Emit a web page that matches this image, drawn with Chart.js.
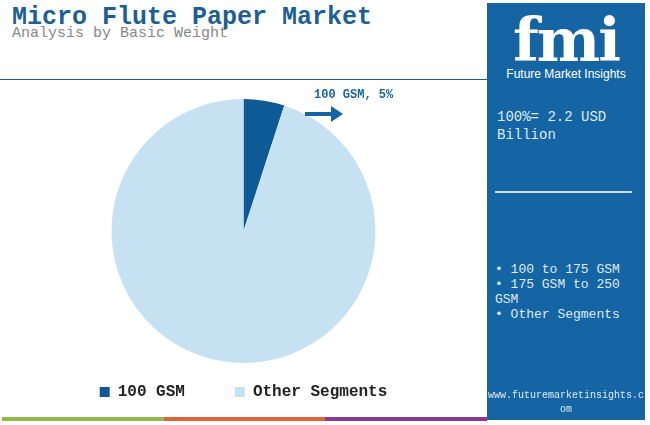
<!DOCTYPE html><html><head><meta charset="utf-8">
<script src="https://cdn.jsdelivr.net/npm/chart.js@4"></script>
<style>
body{margin:0;width:650px;height:425px;position:relative;background:#fff;font-family:"Liberation Mono","DejaVu Sans Mono",monospace;overflow:hidden}
#t1{position:absolute;left:12px;top:3px;font-size:25px;font-weight:bold;color:#1c5f94;font-family:"Liberation Mono",monospace}
#t2{position:absolute;left:12px;top:25px;font-size:15px;color:#888}
#hl{position:absolute;left:0;top:79px;width:487px;height:1px;background:#1c5f94}
#panel{position:absolute;left:487px;top:3px;width:158px;height:417px;background:#1565a5;color:#dfe9f3}
#bar{position:absolute;left:2px;top:417px;height:4px;width:485px;display:flex}
#lbl{position:absolute;left:314px;top:88px;font-size:12px;font-weight:bold;color:#1565a5;z-index:3}
#cv{position:absolute;left:0;top:88px}
</style></head><body>
<div id="t1">Micro Flute Paper Market</div>
<div id="t2">Analysis by Basic Weight</div>
<div id="hl"></div>
<div id="cv"><canvas id="c" width="487" height="322"></canvas></div>
<div id="lbl">100 GSM, 5%</div>
<svg style="position:absolute;left:303px;top:104px;z-index:3" width="42" height="20"><line x1="2" y1="10" x2="30" y2="10" stroke="#1565a5" stroke-width="4"/><polygon points="28,2 40,10 28,18" fill="#1565a5"/></svg>
<div id="panel">
<div style="text-align:center;margin-top:8px;font:bold 60px 'DejaVu Serif',serif;color:#fff;letter-spacing:-2px;line-height:58px">fmi</div>
<div style="text-align:center;font:12px 'Liberation Sans',sans-serif;color:#fff;margin-top:-2px">Future Market Insights</div>
<div style="position:absolute;left:10px;top:105px;font-size:14px;line-height:18px">100%= 2.2 USD<br>Billion</div>
<div style="position:absolute;left:8px;top:188px;width:137px;height:2px;background:#c7dcee"></div>
<div style="position:absolute;left:8px;top:259px;font-size:13px;line-height:15px;width:140px">• 100 to 175 GSM<br>• 175 GSM to 250 GSM<br>• Other Segments</div>
<div style="position:absolute;left:-2px;top:386px;font-size:10px;width:162px;text-align:center;line-height:14px;word-break:break-all">www.futuremarketinsights.com</div>
</div>
<div id="bar"><div style="flex:1;background:#8fbb4b"></div><div style="flex:1;background:#e0643a"></div><div style="flex:1;background:#8a3b8f"></div></div>
<script>
const categories=["100 GSM","Other Segments"];
const values=[5,95];
const colors=["#0d5a96","#c6e2f2"];
new Chart(document.getElementById('c'),{type:'pie',
data:{labels:categories,datasets:[{data:values,backgroundColor:colors,borderWidth:0,radius:132,clip:false}]},
options:{responsive:false,animation:false,layout:{padding:{top:40}},
plugins:{tooltip:{enabled:false},legend:{position:'bottom',labels:{boxWidth:10,boxHeight:10,padding:50,color:'#222',font:{family:'Liberation Mono',size:16,weight:'bold'}}}}}});
</script></body></html>
